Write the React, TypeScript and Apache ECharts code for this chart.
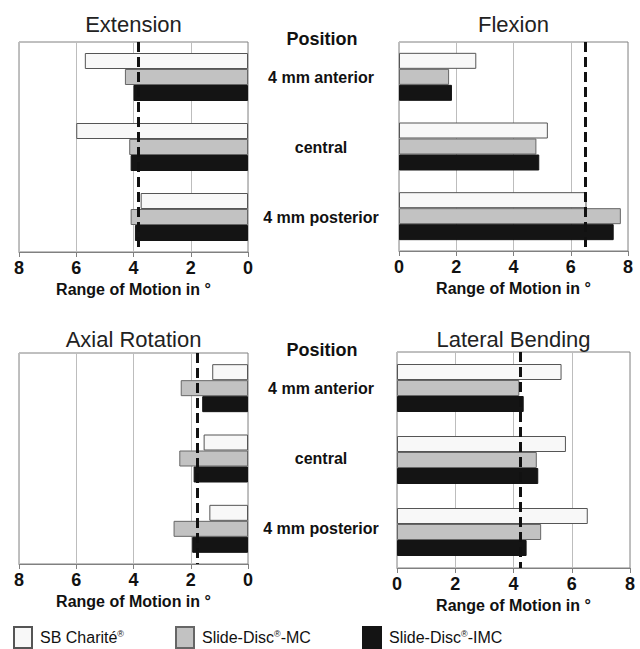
import React, { useEffect, useRef } from "react";
import * as echarts from "echarts";

const categories = ["4 mm anterior", "central", "4 mm posterior"];
const seriesNames = ["SB Charité®", "Slide-Disc®-MC", "Slide-Disc®-IMC"];
const panelTitles = ["Extension", "Flexion", "Axial Rotation", "Lateral Bending"];
const axisTicks = [0, 2, 4, 6, 8];

const extensionSB = [5.7, 6.0, 3.75];
const extensionMC = [4.3, 4.15, 4.1];
const extensionIMC = [4.0, 4.1, 3.95];
const extensionRef = 3.85;

const flexionSB = [2.7, 5.2, 6.55];
const flexionMC = [1.75, 4.8, 7.75];
const flexionIMC = [1.85, 4.9, 7.5];
const flexionRef = 6.5;

const axialSB = [1.25, 1.55, 1.35];
const axialMC = [2.35, 2.4, 2.6];
const axialIMC = [1.6, 1.9, 1.95];
const axialRef = 1.78;

const lateralSB = [5.65, 5.8, 6.55];
const lateralMC = [4.2, 4.8, 4.95];
const lateralIMC = [4.35, 4.85, 4.45];
const lateralRef = 4.22;

const FONT = "Liberation Sans, Arial, sans-serif";

const panelData = [
  { sb: extensionSB, mc: extensionMC, imc: extensionIMC, ref: extensionRef },
  { sb: flexionSB, mc: flexionMC, imc: flexionIMC, ref: flexionRef },
  { sb: axialSB, mc: axialMC, imc: axialIMC, ref: axialRef },
  { sb: lateralSB, mc: lateralMC, imc: lateralIMC, ref: lateralRef },
];

const grids = [
  { left: 19, top: 42, width: 229, height: 210 },
  { left: 399, top: 42, width: 229, height: 209 },
  { left: 19, top: 353, width: 229, height: 211 },
  { left: 397, top: 352, width: 233, height: 216 },
];

const barStyles = [
  { color: "#f8f8f8", borderColor: "#555", borderWidth: 1 },
  { color: "#c2c2c2", borderColor: "#666", borderWidth: 1 },
  { color: "#141414", borderColor: "#141414", borderWidth: 1 },
];

export default function App() {
  const ref = useRef<HTMLDivElement>(null);
  useEffect(() => {
    if (!ref.current) return;
    const chart = echarts.init(ref.current, null, { renderer: "svg" });
    const reversed = [true, false, true, false];
    const series: any[] = [];
    panelData.forEach((p, gi) => {
      const vals = [p.sb, p.mc, p.imc];
      vals.forEach((v, si) => {
        series.push({
          type: "bar",
          name: seriesNames[si],
          xAxisIndex: gi,
          yAxisIndex: gi,
          data: v,
          barWidth: 16,
          barGap: "0%",
          itemStyle: barStyles[si],
          ...(si === 2
            ? {
                markLine: {
                  silent: true,
                  symbol: "none",
                  label: { show: false },
                  lineStyle: { color: "#111", type: [10, 5], width: 3 },
                  data: [{ xAxis: p.ref }],
                },
              }
            : {}),
        });
      });
    });

    const option: any = {
      animation: false,
      grid: grids.map((g) => ({
        ...g,
        show: true,
        borderColor: "#808080",
        borderWidth: 1,
        backgroundColor: "#fff",
        containLabel: false,
      })),
      xAxis: grids.map((g, i) => ({
        type: "value",
        gridIndex: i,
        min: axisTicks[0],
        max: axisTicks[axisTicks.length - 1],
        interval: 2,
        inverse: reversed[i],
        name: "Range of Motion in °",
        nameLocation: "middle",
        nameGap: 29,
        nameTextStyle: { fontFamily: FONT, fontWeight: "bold", fontSize: 16, color: "#111" },
        axisLine: { show: true, lineStyle: { color: "#808080" } },
        axisTick: { show: true, length: 5, lineStyle: { color: "#808080" } },
        axisLabel: { fontFamily: FONT, fontWeight: "bold", fontSize: 18, color: "#111", margin: 7 },
        splitLine: { show: true, lineStyle: { color: "#bdbdbd", width: 1 } },
      })),
      yAxis: grids.map((g, i) => ({
        type: "category",
        gridIndex: i,
        data: categories,
        inverse: true,
        position: reversed[i] ? "right" : "left",
        axisLine: { show: false },
        axisTick: { show: false },
        axisLabel: reversed[i]
          ? {
              show: true,
              align: "center",
              margin: 73,
              padding: [7, 0, 0, 0],
              fontFamily: FONT,
              fontWeight: "bold",
              fontSize: 16,
              color: "#111",
            }
          : { show: false },
      })),
      legend: seriesNames.map((n, i) => ({
        data: [n],
        left: [13, 175, 362][i],
        top: 626,
        padding: 0,
        icon: "rect",
        itemWidth: 18,
        itemHeight: 21,
        selectedMode: false,
        formatter: (name: string) => name.replace("®", "{sup|®}"),
        textStyle: {
          fontFamily: FONT,
          fontSize: 16,
          color: "#111",
          padding: [0, 0, 0, 3],
          rich: { sup: { fontSize: 9, verticalAlign: "top", padding: [0, 0, 6, 0], fontFamily: FONT, color: "#111" } },
        },
      })),
      graphic: [
        ...panelTitles.map((t, i) => ({
          type: "text",
          x: grids[i].left + grids[i].width / 2,
          y: [24, 24, 339, 339][i],
          style: {
            text: t,
            fontFamily: FONT,
            fontSize: 22,
            fill: "#222",
            textAlign: "center",
            textVerticalAlign: "middle",
          },
        })),
        ...[39, 350].map((y) => ({
          type: "text",
          x: 322,
          y,
          style: {
            text: "Position",
            fontFamily: FONT,
            fontSize: 18,
            fontWeight: "bold",
            fill: "#111",
            textAlign: "center",
            textVerticalAlign: "middle",
          },
        })),
      ],
      series,
    };
    chart.setOption(option);
    return () => chart.dispose();
  }, []);
  return (
    <div
      ref={ref}
      style={{ position: "absolute", left: 0, top: 0, width: 640, height: 649, background: "#fff" }}
    />
  );
}
